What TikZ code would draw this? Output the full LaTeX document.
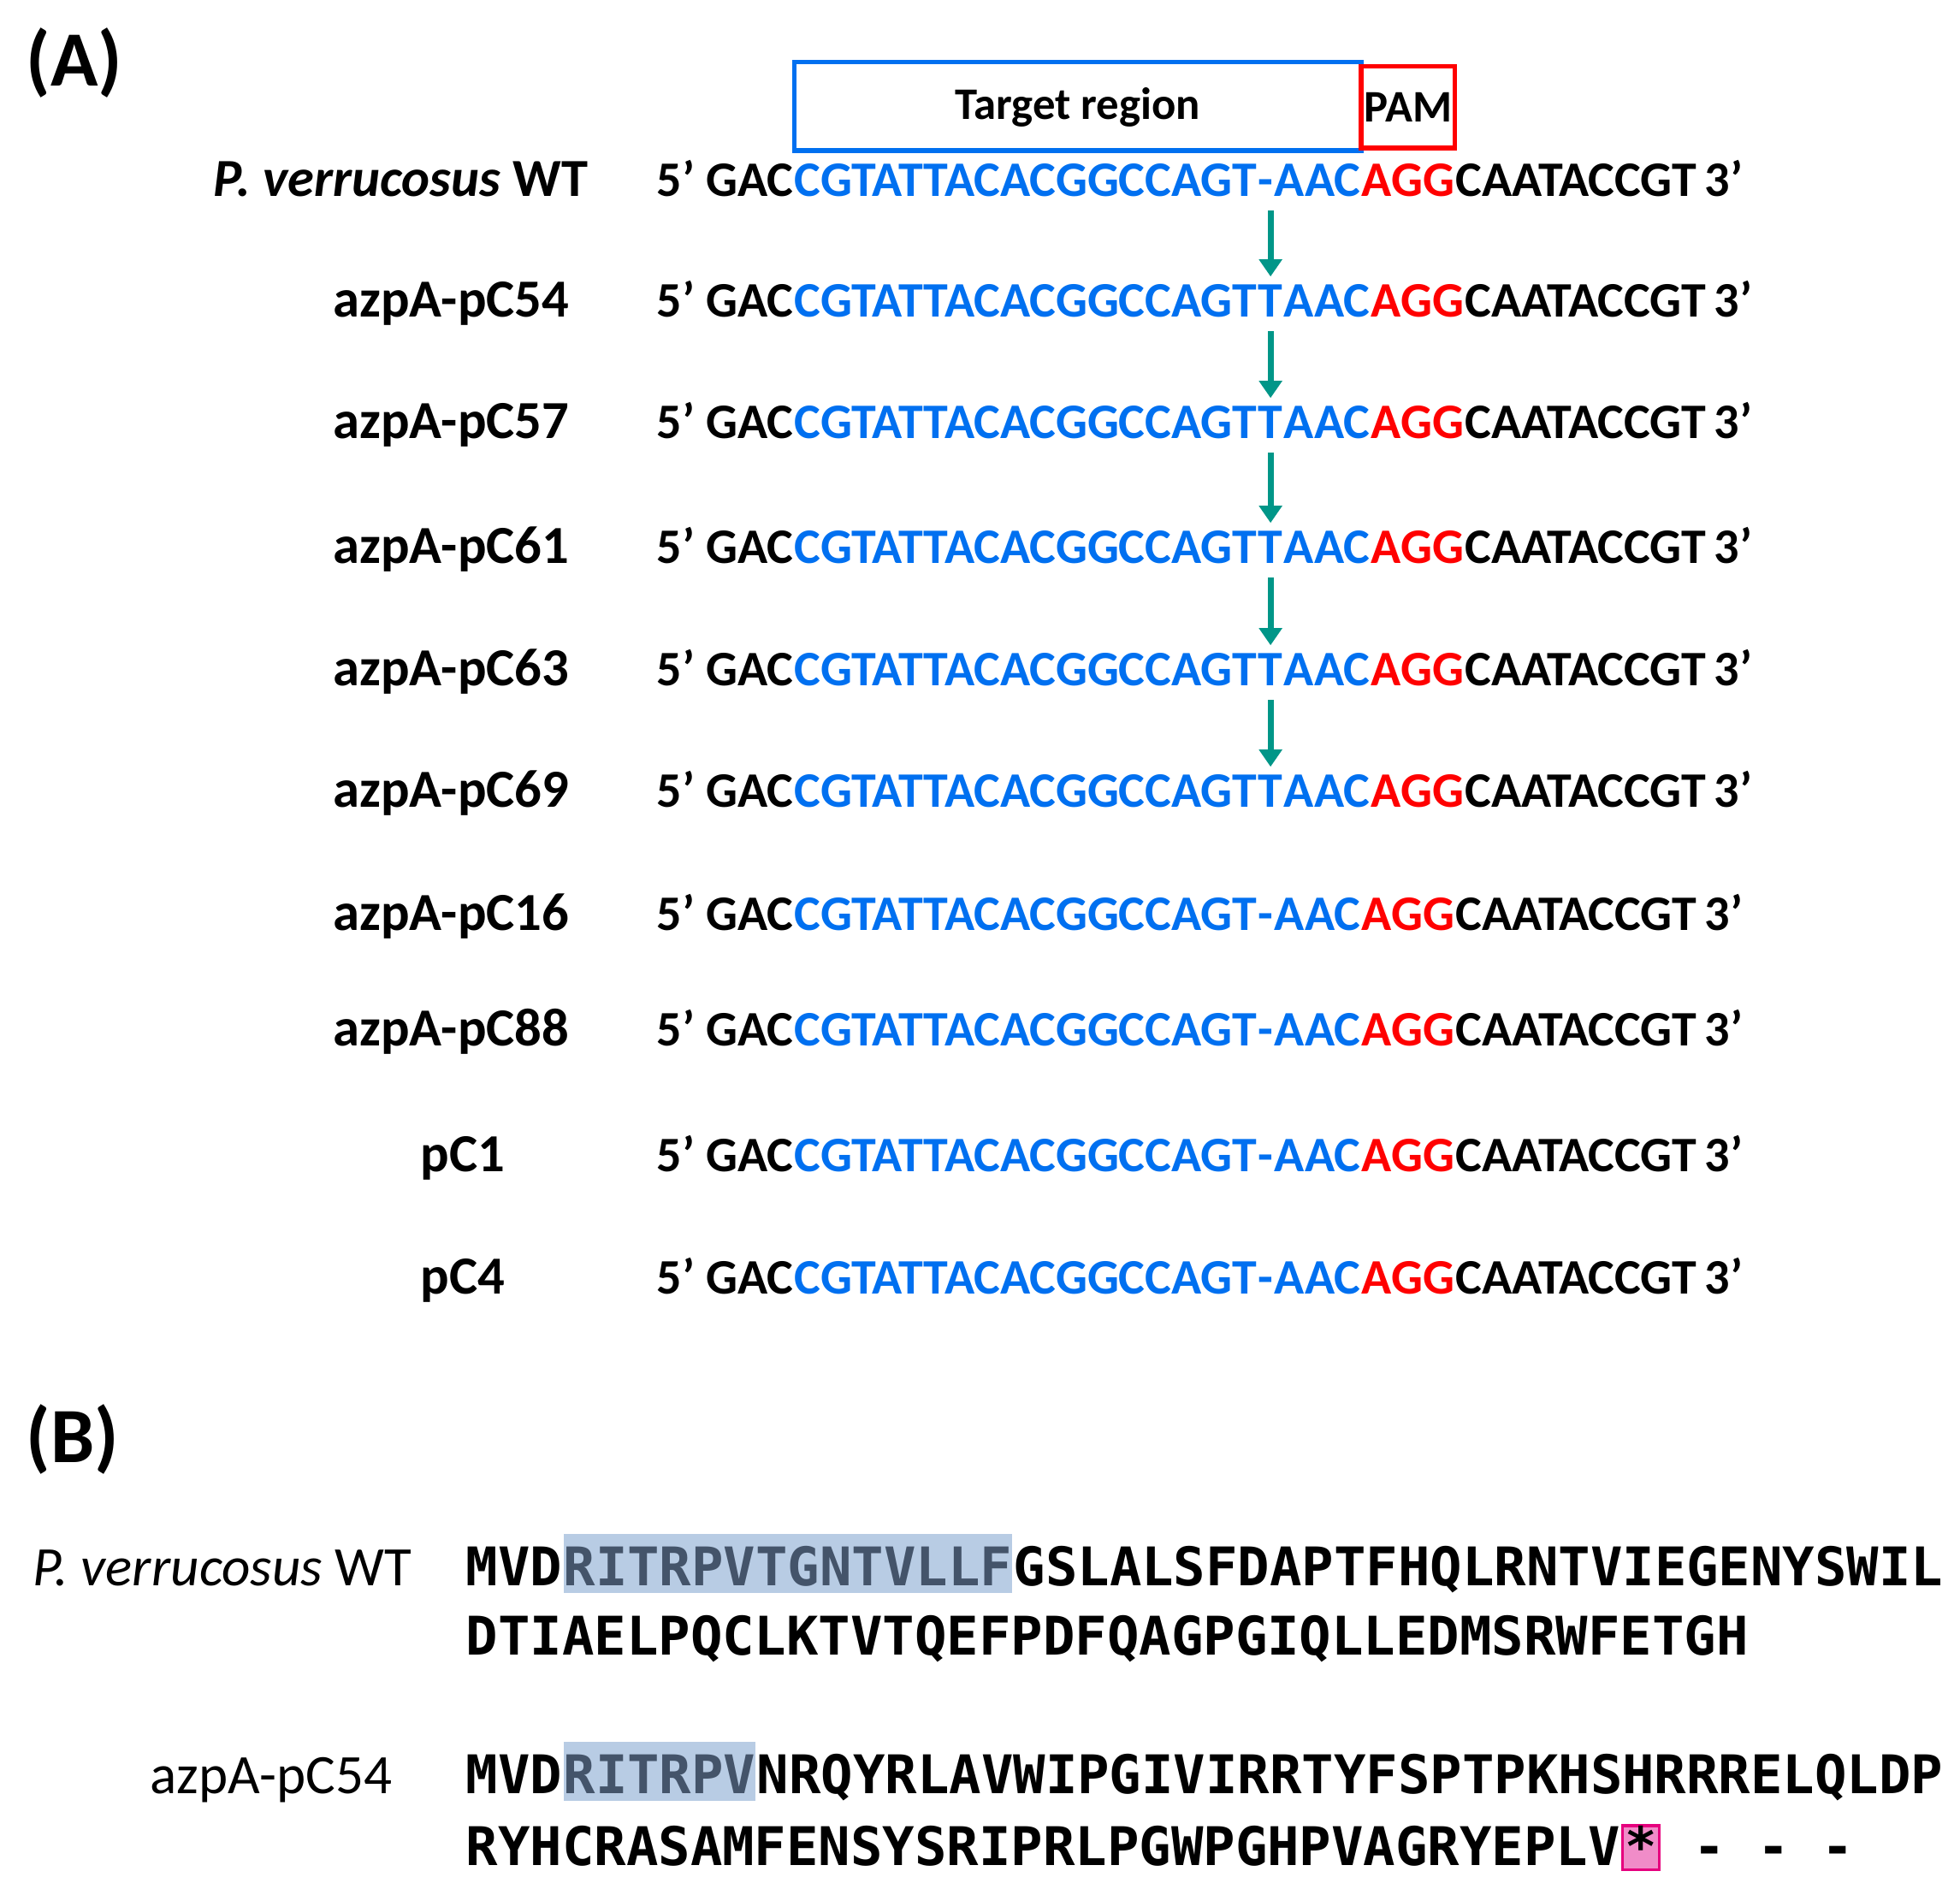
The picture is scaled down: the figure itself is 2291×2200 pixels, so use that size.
\documentclass[tikz,border=0pt]{standalone}
\usepackage{fontspec}
\setmainfont{Carlito}
\newfontfamily\monof{DejaVu Sans Mono}
\usetikzlibrary{arrows.meta,calc}
\definecolor{seqblue}{RGB}{0,112,240}
\definecolor{pamred}{RGB}{255,0,0}
\definecolor{cutteal}{RGB}{0,150,136}
\definecolor{hlblue}{RGB}{184,204,228}
\definecolor{hltext}{RGB}{68,84,106}
\definecolor{stopfill}{RGB}{240,140,200}
\definecolor{stopdraw}{RGB}{230,0,126}
\tikzset{
  piece/.style={inner sep=0pt, anchor=base west, font=\fontsize{16.5}{19}\bfseries\selectfont},
  lab/.style={inner sep=0pt, font=\fontsize{17.8}{20}\bfseries\selectfont},
  boxlab/.style={inner sep=0pt, font=\fontsize{15}{18}\bfseries\selectfont},
  panel/.style={inner sep=0pt, anchor=west, font=\fontsize{26}{30}\bfseries\selectfont},
  prot/.style={inner sep=0pt, anchor=base west, font=\monof\fontsize{17.7}{20}\bfseries\selectfont},
  plab/.style={inner sep=0pt, anchor=base east, font=\fontsize{18.5}{21}\selectfont},
  hl/.style={prot, fill=hlblue, text=hltext, text height=0.6cm, text depth=0.09cm},
  stopbox/.style={prot, fill=stopfill, draw=stopdraw, line width=0.03cm, inner xsep=0.03cm, text height=0.46cm, text depth=0.05cm},
  cut/.style={cutteal, line width=0.07cm, -{Triangle[length=0.2cm,width=0.26cm]}, shorten <=0.16cm, shorten >=0.08cm}
}
\begin{document}
\begin{tikzpicture}[x=0.01cm, y=-0.01cm]
\useasboundingbox (0,0) rectangle (2291,2200);

% panel A
\node[panel] (pa) at (30,73) {(A)};
\foreach \i/\y/\mid/\name/\lx/\an in {
  1/209/-/{\textit{P. verrucosus} WT}/688/base east,
  2/350/T/{azpA-pC54}/666/base east,
  3/492/T/{azpA-pC57}/666/base east,
  4/638/T/{azpA-pC61}/666/base east,
  5/781/T/{azpA-pC63}/666/base east,
  6/923/T/{azpA-pC69}/666/base east,
  7/1067/-/{azpA-pC16}/666/base east,
  8/1202/-/{azpA-pC88}/666/base east,
  9/1349/-/{pC1}/541/base,
  10/1492/-/{pC4}/541/base}
{
  \node[lab, anchor=\an] (l\i) at (\lx,\y+20) {\name};
  \node[piece] (a\i) at (767,\y+20) {5’ GAC};
  \node[piece, seqblue] (b\i) at (a\i.base east) {CGTATTACACGGCCAGT};
  \node[piece, seqblue] (m\i) at (b\i.base east) {\mid};
  \node[piece, seqblue] (e\i) at (m\i.base east) {AAC};
  \node[piece, pamred] (r\i) at (e\i.base east) {AGG};
  \node[piece] (c\i) at (r\i.base east) {CAATACCGT\,3’};
}
\coordinate (btop) at (0,73);
\coordinate (bbot) at (0,176);
\coordinate (rtop) at (0,78);
\coordinate (rbot) at (0,173);
\coordinate (bmid) at (0,125);
\draw[seqblue, line width=0.05cm] (b1.west |- btop) rectangle (r1.west |- bbot);
\draw[pamred, line width=0.05cm] (r1.west |- rtop) rectangle (r1.east |- rbot);
\node[boxlab] (tr) at ($(b1.west |- bmid)!0.5!(r1.west |- bmid)$) {Target region};
\node[boxlab] (pam) at ($(r1.west |- bmid)!0.5!(r1.east |- bmid)$) {PAM};
\foreach \i [evaluate=\i as \j using int(\i+1)] in {1,...,5}
  \draw[cut] (m2.center |- b\i.south) -- (m2.center |- b\j.north);

% panel B
\node[panel] (pb) at (30,1682) {(B)};
\node[plab] (lw) at (482,1853) {\textit{P. verrucosus} WT};
\node[prot] (w1) at (544,1853) {MVD};
\node[hl] (w2) at (w1.base east) {RITRPVTGNTVLLF};
\node[prot] (w3) at (w2.base east) {GSLALSFDAPTFHQLRNTVIEGENYSWIL};
\node[prot] (w4) at (544,1934) {DTIAELPQCLKTVTQEFPDFQAGPGIQLLEDMSRWFETGH};
\node[plab] (lm) at (459,2096) {azpA-pC54};
\node[prot] (m1) at (544,2096) {MVD};
\node[hl] (m2b) at (m1.base east) {RITRPV};
\node[prot] (m3) at (m2b.base east) {NRQYRLAVWIPGIVIRRTYFSPTPKHSHRRRELQLDP};
\node[prot] (m4) at (544,2180) {RYHCRASAMFENSYSRIPRLPGWPGHPVAGRYEPLV};
\node[stopbox] (m5) at (m4.base east) {*};
\node[prot] (m6) at (m5.base east) {\ -\ -\ -};
\end{tikzpicture}
\end{document}
